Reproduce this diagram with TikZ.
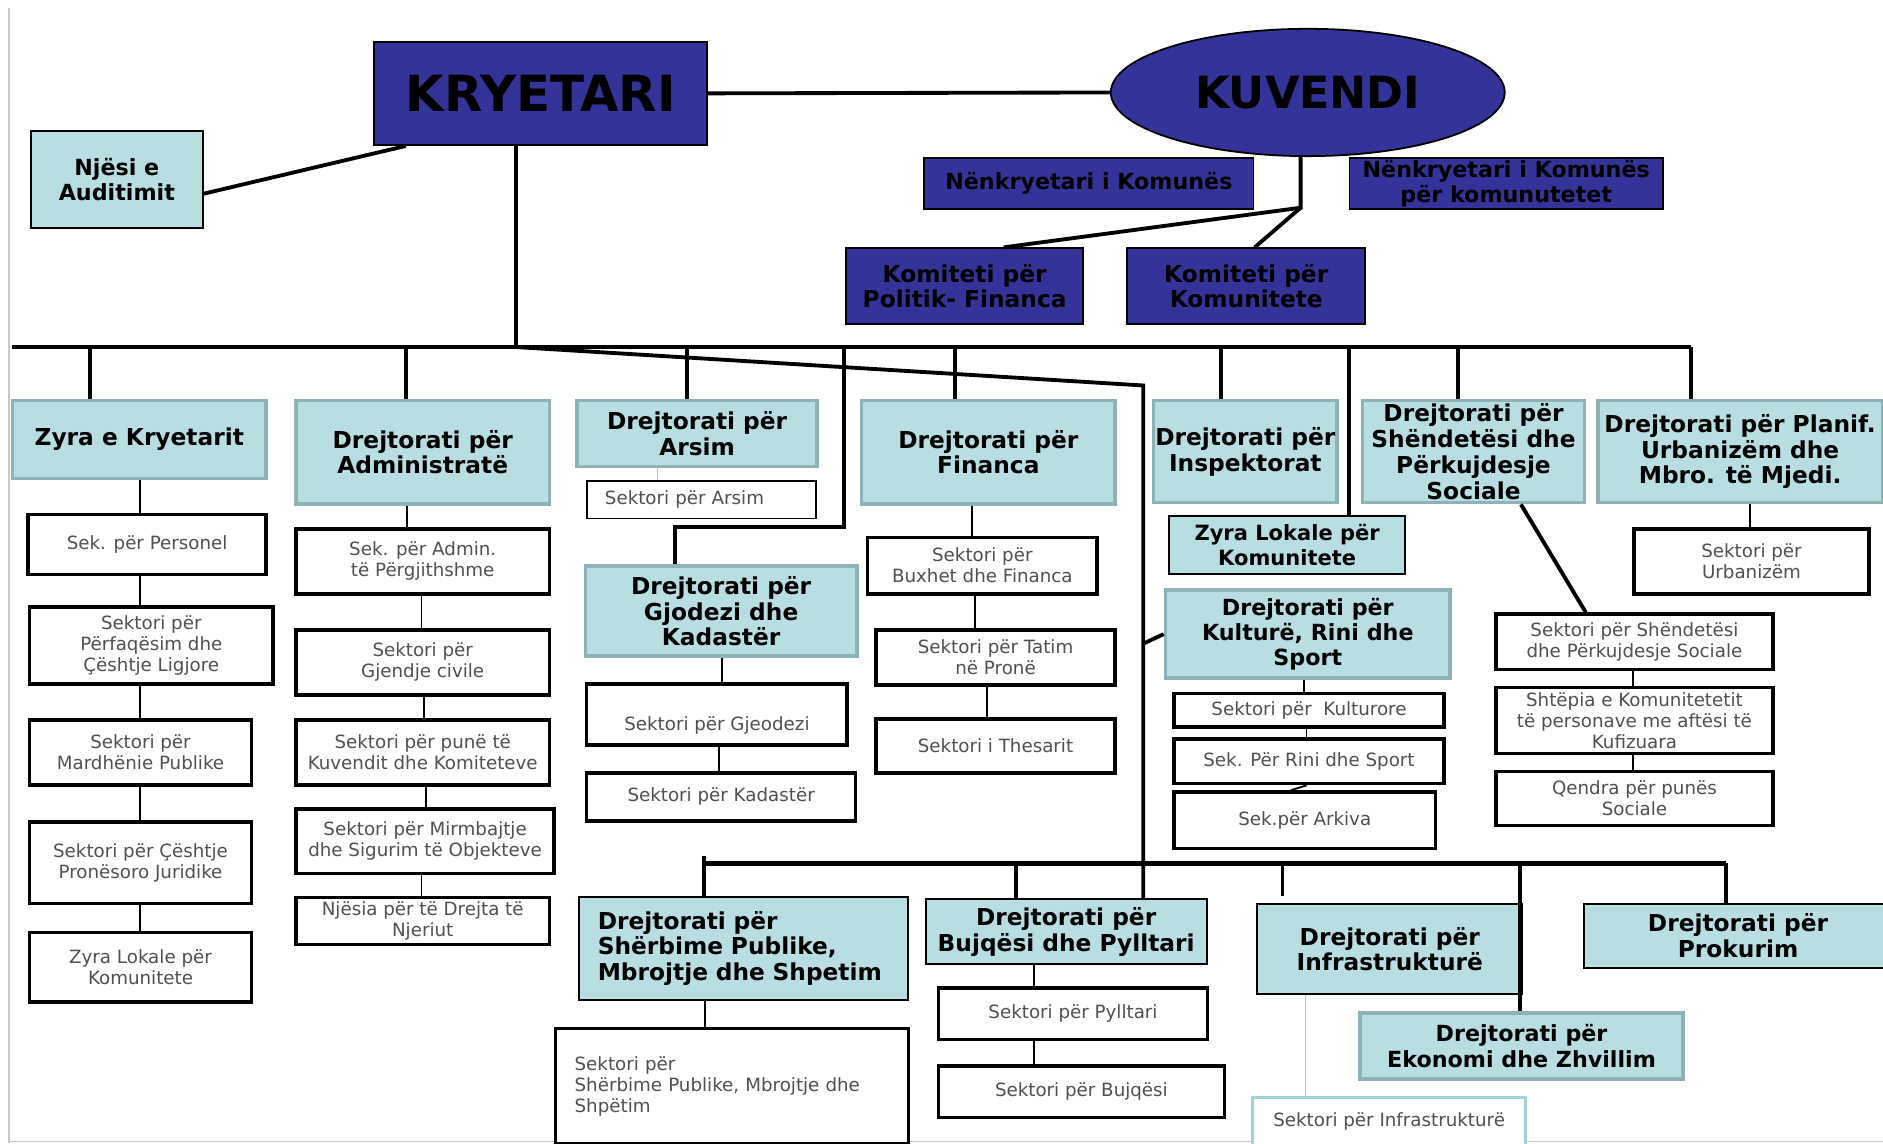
\documentclass[tikz,border=0pt]{standalone}
\usepackage{fontspec}
\setmainfont{DejaVu Sans}
\usetikzlibrary{shapes.geometric}
\definecolor{kblue}{HTML}{333399}
\definecolor{lblue}{HTML}{B8DEE2}
\definecolor{tealb}{HTML}{8FB2B5}
\definecolor{sektext}{HTML}{505050}
\definecolor{thinb}{HTML}{9FD3D9}
\definecolor{edgegray}{HTML}{C8C8C8}
\newcommand{\headfont}{\fontsize{19.4}{21.5}\selectfont\bfseries}
\newcommand{\headsmall}{\fontsize{18.5}{21}\selectfont\bfseries}
\newcommand{\headsmaller}{\fontsize{17.5}{20.5}\selectfont\bfseries}
\newcommand{\secfont}{\fontsize{15.2}{17.5}\selectfont}
\newcommand{\bx}[7]{%
  \pgfmathsetmacro{\bxw}{#4-#2}\pgfmathsetmacro{\bxh}{#5-#3}%
  \node[#6, anchor=north west, minimum width=\bxw pt, minimum height=\bxh pt] (#1) at (#2,#3) {#7};}
\tikzset{
  box/.style={inner sep=0pt, align=center, font=\headfont, text=black},
  dblue/.style={box, fill=kblue, draw=black, line width=1.5pt},
  lb/.style={box, fill=lblue, draw=tealb, line width=3pt},
  lbk/.style={box, fill=lblue, draw=black, line width=1.6pt},
  sek/.style={inner sep=0pt, align=center, font=\secfont, text=sektext, fill=white, draw=black, line width=3pt},
  sekthin/.style={sek, line width=1.5pt},
  sekteal/.style={sek, draw=thinb, line width=2.5pt},
  conn/.style={line width=1.5pt, black},
  lconn/.style={line width=1.2pt, thinb},
  bus/.style={line width=3.2pt, black},
  lbus/.style={line width=3.6pt, black},
  edge/.style={line width=1.5pt, edgegray}
}
\begin{document}
\begin{tikzpicture}[x=1pt,y=-1pt]
\useasboundingbox (0,0) rectangle (1568,952);
\fill[white] (0,0) rectangle (1568,952);
\draw[edge] (7.5,7) -- (7.5,952);
\draw[edge] (7.5,950.5) -- (1568,950.5);

% ---------- top ----------
\bx{kry}{311}{34}{588}{120}{dblue, font=\fontsize{41.5}{45}\selectfont\bfseries}{KRYETARI}
\bx{nj}{25}{108}{168}{189}{lbk, font=\headsmall}{Njësi e\\Auditimit}
\node[ellipse, fill=kblue, draw=black, line width=1.5pt, inner sep=0pt,
      minimum width=328pt, minimum height=106pt,
      font=\fontsize{37}{41}\selectfont\bfseries] (kuv) at (1089,77) {KUVENDI};
\bx{nk1}{769}{131}{1043}{173}{dblue, font=\headsmall}{Nënkryetari i Komunës}
\bx{nk2}{1123}{131}{1384}{173}{dblue, font=\headsmall}{Nënkryetari i Komunës\\për komunutetet}
\bx{kp}{704}{206}{901}{269}{dblue}{Komiteti për\\Politik- Financa}
\bx{kk}{938}{206}{1136}{269}{dblue}{Komiteti për\\Komunitete}

% ---------- directorates row ----------
\bx{zk}{9}{332}{220}{397}{lb}{Zyra e Kryetarit}
\bx{adm}{245}{332}{456}{418}{lb}{Drejtorati për\\Administratë}
\bx{ars}{479}{332}{679}{387}{lb}{Drejtorati për\\Arsim}
\bx{fin}{716}{332}{927}{418}{lb}{Drejtorati për\\Financa}
\bx{ins}{959}{332}{1112}{417}{lb}{Drejtorati për\\Inspektorat}
\bx{shn}{1133}{332}{1318}{417}{lb}{Drejtorati për\\Shëndetësi dhe\\Përkujdesje\\Sociale}
\bx{pla}{1329}{332}{1566}{417}{lb}{Drejtorati për Planif.\\Urbanizëm dhe\\Mbro. të Mjedi.}

% ---------- column 1 ----------
\bx{s11}{22}{427}{220}{477}{sek}{Sek. për Personel}
\bx{s12}{23}{504}{226}{568}{sek}{Sektori për\\Përfaqësim dhe\\Çështje Ligjore}
\bx{s13}{23}{598}{208}{652}{sek}{Sektori për\\Mardhënie Publike}
\bx{s14}{23}{683}{208}{751}{sek}{Sektori për Çështje\\Pronësoro Juridike}
\bx{s15}{23}{775}{208}{833}{sek}{Zyra Lokale për\\Komunitete}

% ---------- column 2 ----------
\bx{s21}{245}{439}{456}{493}{sek}{Sek. për Admin.\\të Përgjithshme}
\bx{s22}{245}{523}{456}{577}{sek}{Sektori për\\Gjendje civile}
\bx{s23}{245}{598}{456}{652}{sek}{Sektori për punë të\\Kuvendit dhe Komiteteve}
\bx{s24}{245}{672}{460}{726}{sek}{Sektori për Mirmbajtje\\dhe Sigurim të Objekteve}
\bx{s25}{245}{746}{456}{785}{sek}{Njësia për të Drejta të\\Njeriut}

% ---------- column 3 ----------
\bx{s31}{488}{400}{679}{431}{sekthin, align=left, text width=161pt, inner xsep=15pt}{Sektori për Arsim}
\bx{gjo}{486}{470}{712}{545}{lb}{Drejtorati për\\Gjodezi dhe\\Kadastër}
\bx{s32}{487}{568}{704}{619}{sek}{\mbox{}\\[12pt]Sektori për Gjeodezi}
\bx{s33}{487}{642}{711}{682}{sek}{Sektori për Kadastër}

% ---------- column 4 ----------
\bx{s41}{721}{446}{912}{493}{sek}{Sektori për\\Buxhet dhe Financa}
\bx{s42}{728}{523}{927}{569}{sek}{Sektori për Tatim\\në Pronë}
\bx{s43}{728}{597}{927}{642}{sek}{Sektori i Thesarit}

% ---------- column 5 ----------
\bx{zlk}{973}{429}{1169}{477}{lbk, font=\headsmaller}{Zyra Lokale për\\Komunitete}
\bx{kul}{969}{490}{1206}{563}{lb, font=\headsmall}{Drejtorati për\\Kulturë, Rini dhe\\Sport}
\bx{s51}{976}{576}{1201}{604}{sek}{Sektori për~~Kulturore}
\bx{s52}{976}{614}{1201}{651}{sek}{Sek. Për Rini dhe Sport}
\bx{s53}{976}{658}{1194}{705}{sek}{Sek.për Arkiva}

% ---------- column 6 ----------
\bx{s61}{1244}{510}{1475}{556}{sek}{Sektori për Shëndetësi\\dhe Përkujdesje Sociale}
\bx{s62}{1244}{571}{1475}{626}{sek}{Shtëpia e Komunitetetit\\të personave me aftësi të\\Kufizuara}
\bx{s63}{1244}{641}{1475}{686}{sek}{Qendra për punës\\Sociale}

% ---------- column 7 ----------
\bx{s71}{1359}{439}{1555}{493}{sek}{Sektori për\\Urbanizëm}

% ---------- lower part ----------
\bx{shp}{481}{746}{755}{832}{lbk, align=left, text width=242pt, inner xsep=16pt}{Drejtorati për\\Shërbime Publike,\\Mbrojtje dhe Shpetim}
\bx{buj}{770}{748}{1004}{802}{lbk}{Drejtorati për\\Bujqësi dhe Pylltari}
\bx{inf}{1046}{752}{1267}{827}{lbk}{Drejtorati për\\Infrastrukturë}
\bx{pro}{1318}{752}{1575}{805}{lbk}{Drejtorati për\\Prokurim}
\bx{eko}{1131}{842}{1400}{897}{lb, font=\headsmall}{Drejtorati për\\Ekonomi dhe Zhvillim}
\bx{s81}{461}{855}{755}{951}{sek, align=left, text width=262pt, inner xsep=16pt}{Sektori për\\Shërbime Publike, Mbrojtje dhe\\Shpëtim}
\bx{s82}{780}{821}{1004}{864}{sek}{Sektori për Pylltari}
\bx{s83}{780}{886}{1018}{929}{sek}{Sektori për Bujqësi}
\bx{s84}{1042}{913}{1269}{953}{sekteal}{Sektori për Infrastrukturë}

% ---------- coordinates ----------
\coordinate (jct) at (430,289);
\coordinate (busL) at (10,289);
\coordinate (busR) at (1408,289);
\coordinate (d1) at (75,289);
\coordinate (d2) at (338,289);
\coordinate (d3) at (572,289);
\coordinate (d4) at (703,289);
\coordinate (d5) at (795,289);
\coordinate (d6) at (1017,289);
\coordinate (d7) at (1123,289);
\coordinate (d8) at (1214,289);
\coordinate (g1) at (703,439);
\coordinate (g2) at (562,439);
\coordinate (dg) at (952,321);
\coordinate (kb) at (952,536);
\coordinate (kj) at (1083,173);
\coordinate (lbL) at (586,719);
\coordinate (lbR) at (1437,719);
\coordinate (ld1) at (586,713);
\coordinate (ld2) at (846,719);
\coordinate (ld3) at (1068,719);
\coordinate (ld3e) at (1068,746);
\coordinate (ld4) at (1266,719);
\coordinate (c1) at (116.5,0);
\coordinate (c2a) at (339,0);
\coordinate (c2b) at (351,0);
\coordinate (c2c) at (353,0);
\coordinate (c2d) at (355,0);
\coordinate (c3a) at (547.6,0);
\coordinate (c3b) at (601,0);
\coordinate (c3c) at (599,0);
\coordinate (c4a) at (809.5,0);
\coordinate (c4b) at (812,0);
\coordinate (c4c) at (822,0);
\coordinate (c5a) at (1086,0);
\coordinate (c5b) at (1088,0);
\coordinate (c5c) at (1075,0);
\coordinate (c6) at (1360,0);
\coordinate (c7) at (1457,0);
\coordinate (c8a) at (587,0);
\coordinate (c8b) at (861,0);
\coordinate (c8c) at (1087,0);

% ---------- top connectors ----------
\draw[bus] ([yshift=-12pt]nj.east) -- ([xshift=27pt]kry.south west);
\draw[bus] (kry.east) -- (kuv.west);
\draw[bus] (kuv.south -| kj) -- (kj) -- ([xshift=32.5pt]kp.north);
\draw[bus] (kj) -- ([xshift=7pt]kk.north);

% ---------- main bus ----------
\draw[bus] (kry.south -| jct) -- (jct);
\draw[bus] (busL) -- (busR);
\draw[bus] (d1) -- (zk.north -| d1);
\draw[bus] (d2) -- (adm.north -| d2);
\draw[bus] (d3) -- (ars.north -| d3);
\draw[bus] (d4) -- (g1) -- (g2) -- (gjo.north -| g2);
\draw[bus] (d5) -- (fin.north -| d5);
\draw[bus] (d6) -- (ins.north -| d6);
\draw[bus] (d7) -- (zlk.north -| d7);
\draw[bus] (d8) -- (shn.north -| d8);
\draw[bus] (busR) -- (pla.north -| busR);
\draw[bus] (jct) -- (dg) -- (buj.north -| dg);
\draw[bus] (kb) -- (kul.west);
\draw[bus] ([xshift=39.5pt]shn.south) -- ([xshift=-40.5pt]s61.north);

% ---------- column connectors ----------
\draw[conn] (zk.south -| c1) -- (s11.north -| c1);
\draw[conn] (s11.south -| c1) -- (s12.north -| c1);
\draw[conn] (s12.south -| c1) -- (s13.north -| c1);
\draw[conn] (s13.south -| c1) -- (s14.north -| c1);
\draw[conn] (s14.south -| c1) -- (s15.north -| c1);
\draw[conn] (adm.south -| c2a) -- (s21.north -| c2a);
\draw[conn] (s21.south -| c2b) -- (s22.north -| c2b);
\draw[conn] (s22.south -| c2c) -- (s23.north -| c2c);
\draw[conn] (s23.south -| c2d) -- (s24.north -| c2d);
\draw[conn] (s24.south -| c2b) -- (s25.north -| c2b);
\draw[lconn] (ars.south -| c3a) -- (s31.north -| c3a);
\draw[conn] (gjo.south -| c3b) -- (s32.north -| c3b);
\draw[conn] (s32.south -| c3c) -- (s33.north -| c3c);
\draw[conn] (fin.south -| c4a) -- (s41.north -| c4a);
\draw[conn] (s41.south -| c4b) -- (s42.north -| c4b);
\draw[conn] (s42.south -| c4c) -- (s43.north -| c4c);
\draw[conn] (kul.south -| c5a) -- (s51.north -| c5a);
\draw[conn] (s51.south -| c5b) -- (s52.north -| c5b);
\draw[conn] (s52.south -| c5b) -- (s53.north -| c5c);
\draw[conn] (s61.south -| c6) -- (s62.north -| c6);
\draw[conn] (s62.south -| c6) -- (s63.north -| c6);
\draw[conn] (pla.south -| c7) -- (s71.north -| c7);

% ---------- lower bus ----------
\draw[lbus] (lbL) -- (lbR);
\draw[bus] (ld1) -- (shp.north -| ld1);
\draw[bus] (ld2) -- (buj.north -| ld2);
\draw[bus] (ld3) -- (ld3e);
\draw[bus] (ld4) -- (eko.north -| ld4);
\draw[bus] (lbR) -- (pro.north -| lbR);
\draw[conn] (shp.south -| c8a) -- (s81.north -| c8a);
\draw[conn] (buj.south -| c8b) -- (s82.north -| c8b);
\draw[conn] (s82.south -| c8b) -- (s83.north -| c8b);
\draw[lconn] (inf.south -| c8c) -- (s84.north -| c8c);
\end{tikzpicture}
\end{document}
